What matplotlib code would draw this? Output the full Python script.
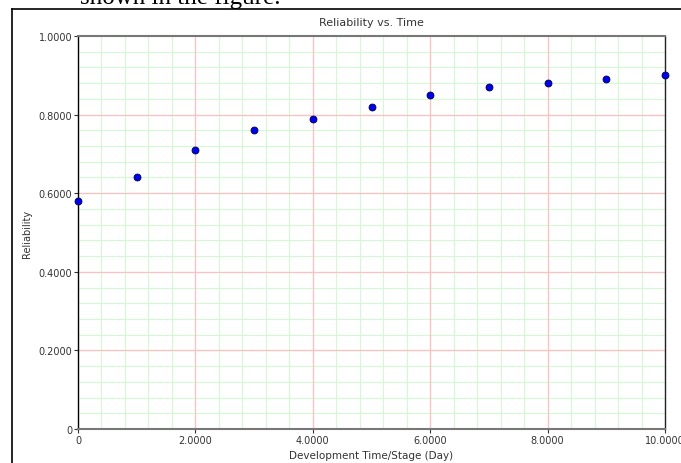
import numpy as np
import matplotlib
matplotlib.use('Agg')
import matplotlib.pyplot as plt
from matplotlib.lines import Line2D

# data
days = [0, 1, 2, 3, 4, 5, 6, 7, 8, 9, 10]
reliability = [0.58, 0.64, 0.71, 0.76, 0.79, 0.82, 0.85, 0.87, 0.88, 0.89, 0.90]
x_ticks = [0, 2, 4, 6, 8, 10]
x_tick_labels = ['0', '2.0000', '4.0000', '6.0000', '8.0000', '10.0000']
y_ticks = [0, 0.2, 0.4, 0.6, 0.8, 1.0]
y_tick_labels = ['0', '0.2000', '0.4000', '0.6000', '0.8000', '1.0000']

fig = plt.figure(figsize=(6.81, 4.64), dpi=100)
ax = fig.add_axes([78/681, 1-430/464, (665-78)/681, (430-37)/464])

# grid: green minor, red major
for x in np.arange(0, 10.01, 0.4):
    ax.axvline(x, color='#d4f7d4', lw=0.8, zorder=0)
for y in np.arange(0, 1.001, 0.04):
    ax.axhline(y, color='#d4f7d4', lw=0.8, zorder=0)
for x in x_ticks[1:-1]:
    ax.axvline(x, color='#fbc0c0', lw=0.9, zorder=1)
for y in y_ticks[1:-1]:
    ax.axhline(y, color='#fbc0c0', lw=0.9, zorder=1)

ax.plot(days, reliability, lw=0, marker='o', markersize=5,
        markerfacecolor='#0000ee', markeredgecolor='#000044', markeredgewidth=0.6,
        zorder=5, clip_on=False)

ax.set_xlim(0, 10)
ax.set_ylim(0, 1)
ax.set_xticks(x_ticks)
ax.set_xticklabels(x_tick_labels)
ax.set_yticks(y_ticks)
ax.set_yticklabels(y_tick_labels)
ax.tick_params(labelsize=7, colors='#333333', length=3, width=0.8, pad=1)

for side in ['top', 'bottom']:
    ax.spines[side].set_color('#777777')
    ax.spines[side].set_linewidth(1.5)
ax.spines['left'].set_color('black')
ax.spines['right'].set_color('#222222')
ax.spines['left'].set_linewidth(1)
ax.spines['right'].set_linewidth(1)

ax.set_title('Reliability vs. Time', fontsize=8, color='#333333', pad=8)
ax.set_xlabel('Development Time/Stage (Day)', fontsize=7.5, color='#333333', labelpad=4)
ax.set_ylabel('Reliability', fontsize=7, color='#333333')
ax.yaxis.set_label_coords(-0.078, 0.5)

# outer frame and the clipped sentence above
fig.add_artist(Line2D([12/681, 12/681], [0, 1-10/464], color='black', lw=1.2))
fig.add_artist(Line2D([12/681, 1], [1-10/464, 1-10/464], color='black', lw=1.2))
fig.text(80/681, 1-4/464, 'shown in the figure.', fontsize=18,
         family='Liberation Serif', va='baseline', ha='left')

fig.savefig('out.png', dpi=100)
